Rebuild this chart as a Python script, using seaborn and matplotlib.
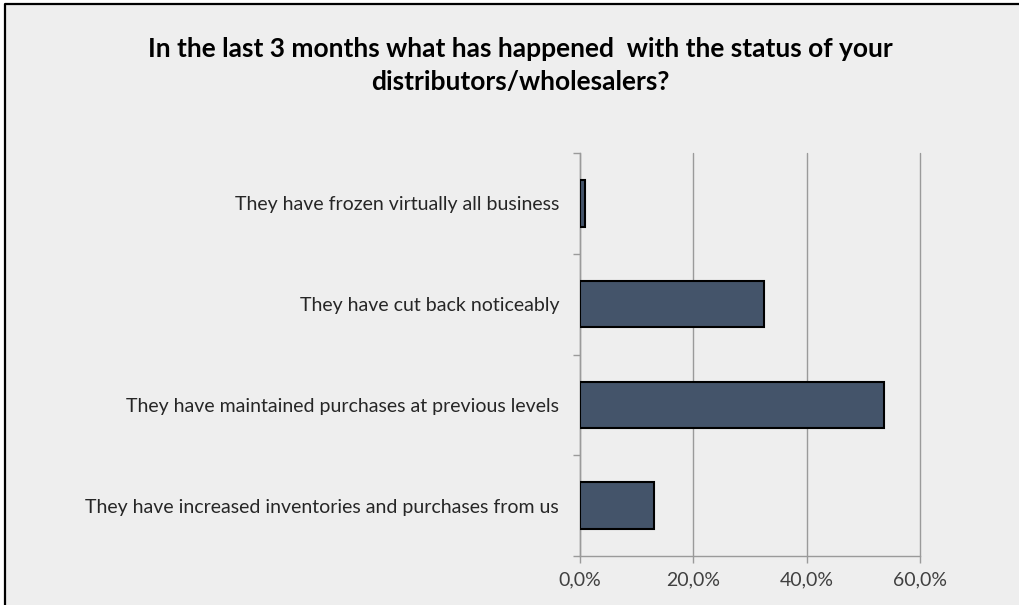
import matplotlib
matplotlib.use("Agg")
import matplotlib.pyplot as plt
from matplotlib.lines import Line2D
from matplotlib.patches import Rectangle
from matplotlib.ticker import FuncFormatter, FixedLocator
import seaborn as sns
import pandas as pd

# Survey answers (top to bottom) and share of respondents, in percent
categories = [
    "They have frozen virtually all business",
    "They have cut back noticeably",
    "They have maintained purchases at previous levels",
    "They have increased inventories and purchases from us",
]
shares = [0.8, 32.5, 53.7, 13.0]
x_ticks = [0, 20, 40, 60]
title = "In the last 3 months what has happened  with the status of your\ndistributors/wholesalers?"

sns.set_theme(style="white")
plt.rcParams["font.family"] = ["Lato", "DejaVu Sans"]

W, H = 1019, 605
fig = plt.figure(figsize=(W / 100, H / 100), dpi=100, facecolor="white")

# chart area background and its frame (top and left edges)
fig.add_artist(Rectangle((5 / W, 0), 1 - 5 / W, 1 - 4 / H, transform=fig.transFigure,
                         facecolor="#eeeeee", edgecolor="none", zorder=-10))
fig.add_artist(Line2D([5 / W, 5 / W, 1], [0, 1 - 4 / H, 1 - 4 / H], transform=fig.transFigure,
                      color="black", lw=1.6, solid_capstyle="butt"))

ax = fig.add_axes([580 / W, 1 - 556 / H, 340 / W, 403 / H])
ax.set_facecolor("none")

df = pd.DataFrame({"answer": categories, "share": shares})
sns.barplot(data=df, x="share", y="answer", orient="h", color="#44546a", saturation=1,
            edgecolor="black", linewidth=1.5, width=0.46, ax=ax, zorder=3)

ax.set_xlim(0, 60)
ax.set_ylim(3.5, -0.5)
ax.set_xlabel("")
ax.set_ylabel("")

# x axis: percentage ticks with comma decimals and vertical gridlines
ax.xaxis.set_major_locator(FixedLocator(x_ticks))
ax.xaxis.set_major_formatter(FuncFormatter(lambda v, p: f"{v:.1f}%".replace(".", ",")))
ax.grid(axis="x", color="#9a9a9a", lw=1.0, zorder=0)
for gl in ax.get_xgridlines():
    gl.set_clip_on(False)
ax.tick_params(axis="x", which="major", bottom=True, length=5, width=1, color="#9a9a9a",
               labelsize=14, labelcolor="#404040", pad=6)

# y axis: labels at category centres, tick marks at category boundaries
ax.set_yticks(range(len(categories)))
ax.set_yticklabels(categories)
ax.yaxis.set_minor_locator(FixedLocator([-0.5, 0.5, 1.5, 2.5, 3.5]))
ax.tick_params(axis="y", which="major", left=False, length=0, labelsize=14,
               labelcolor="#262626", pad=15)
ax.tick_params(axis="y", which="minor", left=True, length=5, width=1, color="#9a9a9a")

for side in ["top", "right"]:
    ax.spines[side].set_visible(False)
for side in ["left", "bottom"]:
    ax.spines[side].set_color("#9a9a9a")
    ax.spines[side].set_linewidth(1.0)

fig.text(520 / W, 1 - 65.5 / H, title, ha="center", va="center", fontsize=19,
         fontweight="bold", color="black", linespacing=1.45)

fig.savefig("out.png", dpi=100, facecolor=fig.get_facecolor())
